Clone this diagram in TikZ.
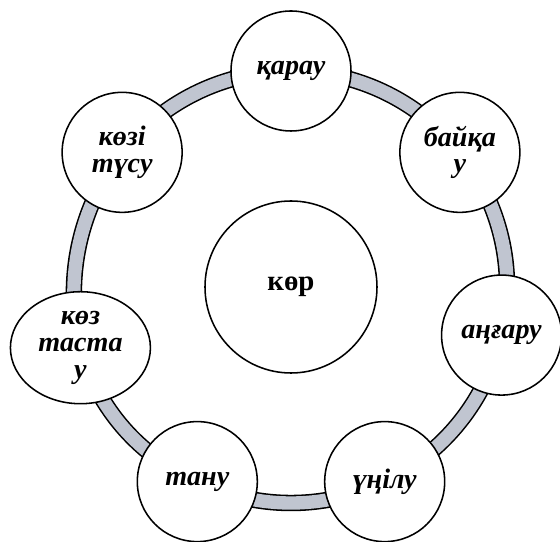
\documentclass[tikz,border=0pt]{standalone}
\usepackage{fontspec}
\setmainfont{Liberation Serif}
\usetikzlibrary{shapes.geometric}
\usetikzlibrary{backgrounds}
\definecolor{ringgray}{RGB}{192,197,208}
\tikzset{
	word/.style={circle, draw, line width=1.1pt, fill=white, minimum size=3cm, inner sep=0pt, align=center, font=\fontsize{20}{19}\selectfont\bfseries\itshape},
	ring/.style={line width=1.1pt, double=ringgray, double distance=9.5pt},
}

\begin{document}
\begin{tikzpicture}
	\useasboundingbox (-7.275,-6.375) rectangle (6.725,7.175);

	\node[word, minimum size=4.3cm, font=\fontsize{20.5}{19}\selectfont\bfseries] (kor) at (0,0) {көр};
	\node[word] (karau) at (90:5.4) {қарау};
	\node[word] (baiqau) at (38.57:5.4) {байқа\\у};
	\node[word] (angaru) at (-12.86:5.4) {аңғару};
	\node[word] (uniluw) at (-64.29:5.4) {үңілу};
	\node[word] (tanu) at (-115.71:5.4) {тану};
	\node[word, ellipse, minimum width=3.5cm, minimum height=2.8cm, yshift=-9pt] (koztastau) at (192.86:5.4) {көз\\таста\\у};
	\node[word] (kozitusu) at (141.43:5.4) {көзі\\түсу};

	\begin{scope}[on background layer]
		\foreach \a/\b in {karau/baiqau, baiqau/angaru, angaru/uniluw, uniluw/tanu, tanu/koztastau, koztastau/kozitusu, kozitusu/karau}
		\draw[ring] (\a.center) to[bend left=25.71, looseness=0.9] (\b.center);
	\end{scope}
\end{tikzpicture}
\end{document}
